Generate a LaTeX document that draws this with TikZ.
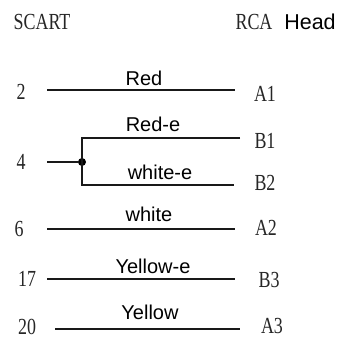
\documentclass[tikz,border=0pt]{standalone}
\usepackage{fontspec}
\setmainfont{Liberation Sans}
\newfontfamily\condserif[FakeStretch=0.78]{Liberation Serif}
\tikzset{
  pin/.style={inner sep=0pt,font=\condserif\fontsize{23}{23}\selectfont,text=black!85},
  wirelabel/.style={inner sep=0pt,font=\fontsize{20}{22}\selectfont,text=black},
  wire/.style={line width=1.4pt,black!90},
  junction/.style={circle,fill=black,inner sep=0pt,minimum size=8pt}
}
\begin{document}
\begin{tikzpicture}[x=1pt,y=-1pt]
\useasboundingbox (0,0) rectangle (338,343);
\node[pin] (scart) at (42,22) {SCART};
\node[pin] (rca) at (254,22) {RCA};
\node[wirelabel,font=\fontsize{21.5}{23}\selectfont] (head) at (310,22) {Head};

\node[pin] (n2) at (21,92) {2};
\node[pin] (n4) at (21,162) {4};
\node[pin] (n6) at (19,229) {6};
\node[pin] (n17) at (27,279) {17};
\node[pin] (n20) at (27,327) {20};

\node[pin] (a1) at (265,94) {A1};
\node[pin] (b1) at (265,141) {B1};
\node[pin] (b2) at (265,183) {B2};
\node[pin] (a2) at (266,228) {A2};
\node[pin] (b3) at (269,280) {B3};
\node[pin] (a3) at (272,326) {A3};

\node[wirelabel] (lred) at (144,78) {Red};
\node[wirelabel] (lrede) at (153,124) {Red-e};
\node[wirelabel] (lwhitee) at (160,172) {white-e};
\node[wirelabel] (lwhite) at (149,214) {white};
\node[wirelabel] (lyellowe) at (153,266) {Yellow-e};
\node[wirelabel] (lyellow) at (150,312) {Yellow};

\coordinate (s2) at (47,90);
\coordinate (e2) at (235,90);
\coordinate (s4) at (47,162);
\coordinate (cb1) at (82,138);
\coordinate (eb1) at (240,138);
\coordinate (cb2) at (82,185);
\coordinate (eb2) at (234,185);
\coordinate (s6) at (47,229);
\coordinate (e6) at (235,229);
\coordinate (s17) at (47,279);
\coordinate (e17) at (235,279);
\coordinate (s20) at (55,329);
\coordinate (e20) at (240,329);

\node[junction] (dot) at (82,162) {};

\draw[wire] (s2) -- (e2);
\draw[wire] (s4) -- (dot);
\draw[wire] (eb1) -- (cb1) -- (cb2) -- (eb2);
\draw[wire] (s6) -- (e6);
\draw[wire] (s17) -- (e17);
\draw[wire] (s20) -- (e20);
\end{tikzpicture}
\end{document}
